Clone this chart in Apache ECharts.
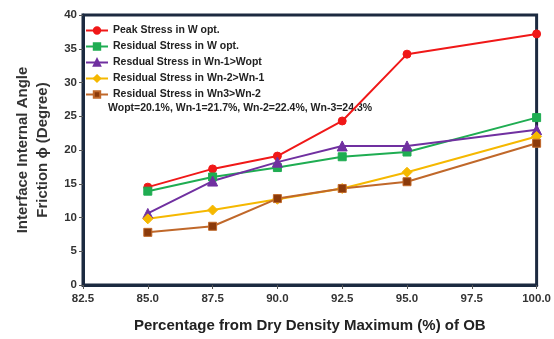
<!DOCTYPE html>
<html><head><meta charset="utf-8">
<script src="https://cdn.jsdelivr.net/npm/echarts@6/dist/echarts.min.js"></script>
<style>html,body{margin:0;padding:0;background:#fff}#c{width:554px;height:339px}</style>
</head><body><div id="c"></div>
<script>
const xValues = [85.0, 87.5, 90.0, 92.5, 95.0, 100.0];
const seriesNames = ["Peak Stress in W opt.", "Residual Stress in W opt.", "Resdual Stress in Wn-1>Wopt", "Residual Stress in Wn-2>Wn-1", "Residual Stress in Wn3>Wn-2"];
const peakW = [14.5, 17.2, 19.1, 24.3, 34.2, 37.2];
const residualW = [13.9, 16.0, 17.4, 19.0, 19.7, 24.8];
const residualWn1 = [10.6, 15.4, 18.2, 20.6, 20.6, 23.0];
const residualWn2 = [9.8, 11.1, 12.7, 14.3, 16.7, 22.0];
const residualWn3 = [7.8, 8.7, 12.8, 14.3, 15.3, 21.0];
const noteText = "Wopt=20.1%, Wn-1=21.7%, Wn-2=22.4%, Wn-3=24.3%";

const chart = echarts.init(document.getElementById('c'));
const lineColors = ['#f01818', '#1fad52', '#7030a0', '#f5b800', '#c0682a'];
const markColors = ['#f01818', '#1fad52', '#7030a0', '#f5b800', '#8b3a0a'];
const symbols = ['circle', 'rect', 'triangle', 'diamond', 'rect'];
const datasets = [peakW, residualW, residualWn1, residualWn2, residualWn3];
const font = 'Liberation Sans, Arial, sans-serif';
chart.setOption({
  animation: false,
  grid: {left: 83, right: 15, top: 15, bottom: 54, show: true, borderColor: '#1c2a40', borderWidth: 3, backgroundColor: 'transparent'},
  legend: {
    orient: 'vertical', left: 80, top: 20, itemGap: 5, itemWidth: 22, itemHeight: 8,
    data: seriesNames,
    textStyle: {fontFamily: font, fontSize: 10.5, fontWeight: 'bold', color: '#222'}
  },
  graphic: [{type: 'text', left: 108, top: 103, style: {text: noteText, fontFamily: font, fontSize: 10.5, fontWeight: 'bold', fill: '#222'}}],
  xAxis: {
    type: 'value', min: 82.5, max: 100, interval: 2.5,
    name: 'Percentage from Dry Density Maximum (%) of OB', nameLocation: 'middle', nameGap: 33,
    nameTextStyle: {fontFamily: font, fontSize: 15, fontWeight: 'bold', color: '#222'},
    axisLine: {show: true, lineStyle: {color: '#1c2a40', width: 3}},
    axisTick: {show: true, length: 4, lineStyle: {color: '#555'}},
    axisLabel: {fontFamily: font, fontSize: 11.5, fontWeight: 'bold', color: '#333', margin: 8, formatter: v => v.toFixed(1)},
    splitLine: {show: false}
  },
  yAxis: {
    type: 'value', min: 0, max: 40, interval: 5,
    name: 'Interface Internal Angle\nFriction \u03d5 (Degree)', nameLocation: 'middle', nameGap: 30,
    nameTextStyle: {fontFamily: font, fontSize: 15, fontWeight: 'bold', color: '#333', lineHeight: 20},
    axisLine: {show: true, lineStyle: {color: '#1c2a40', width: 3}},
    axisTick: {show: true, length: 4, lineStyle: {color: '#555'}},
    axisLabel: {fontFamily: font, fontSize: 11.5, fontWeight: 'bold', color: '#333', margin: 6},
    splitLine: {show: false}
  },
  series: datasets.map((d, i) => ({
    name: seriesNames[i], type: 'line',
    data: xValues.map((x, j) => [x, d[j]]),
    symbol: symbols[i], symbolSize: i === 2 ? 10 : (i === 3 ? 10 : 8),
    lineStyle: {color: lineColors[i], width: 2},
    itemStyle: {color: markColors[i], borderColor: lineColors[i], borderWidth: 1}
  }))
});
</script></body></html>
